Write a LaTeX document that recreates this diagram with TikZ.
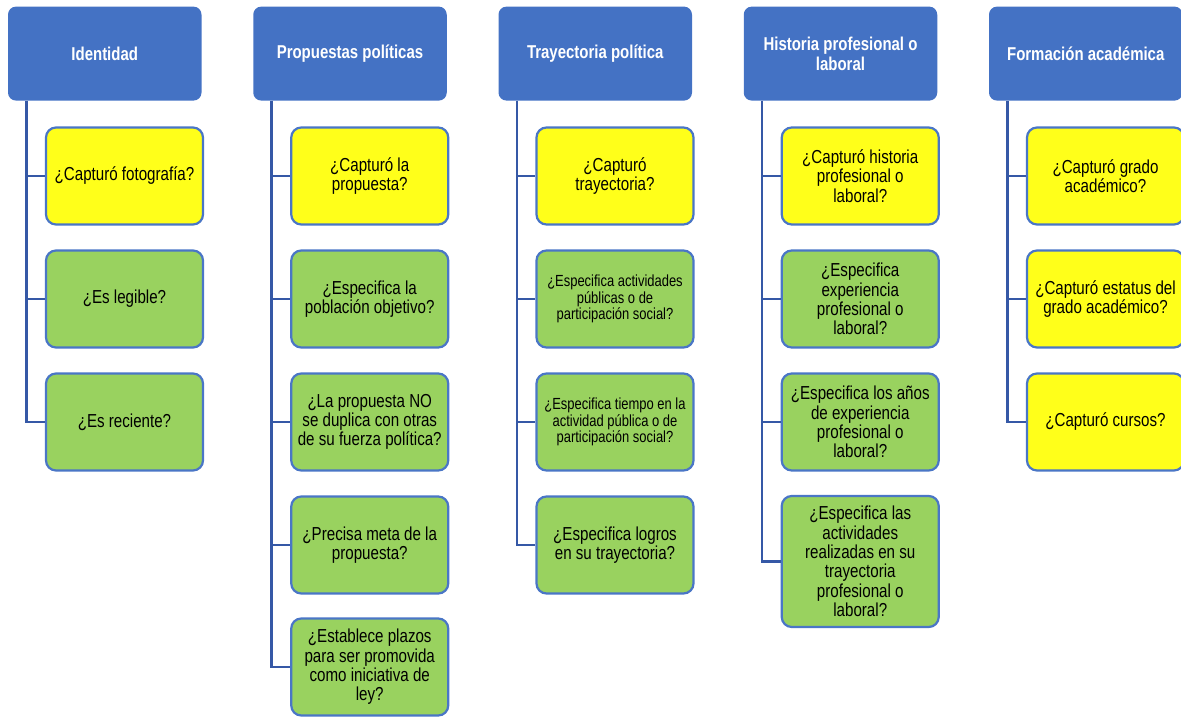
\documentclass[tikz,border=0pt]{standalone}
\usepackage{fontspec}
\setmainfont{Liberation Sans}[FakeStretch=0.805]
\definecolor{hblue}{HTML}{4472C4}
\definecolor{bblue}{HTML}{4A76C6}
\definecolor{lblue}{HTML}{3558A6}
\definecolor{qyellow}{HTML}{FFFF1A}
\definecolor{qgreen}{HTML}{99D25F}
\tikzset{
  hdr/.style={fill=hblue, draw=none, rounded corners=8pt, minimum width=193.5pt, minimum height=94pt,
    text=white, align=center, inner sep=2pt, font=\bfseries\fontsize{18.6}{20}\selectfont},
  qbox/.style={draw=bblue, line width=2.2pt, rounded corners=10pt, minimum width=157pt, minimum height=97pt,
    align=center, inner sep=2pt, text=black, font=\fontsize{18.8}{19.3}\selectfont},
  qy/.style={qbox, fill=qyellow},
  qg/.style={qbox, fill=qgreen},
  small/.style={font=\fontsize{16.1}{16.7}\selectfont},
  conn/.style={draw=lblue, line width=2.6pt}
}
\begin{document}
\begin{tikzpicture}[x=1pt,y=-1pt]
\useasboundingbox (0,0) rectangle (1181,717);
% column 1
\node[hdr] (h1) at (104.75,53.6) {Identidad};
\node[qy] (q11) at (124.5,176) {¿Capturó fotografía?};
\node[qg] (q12) at (124.5,299) {¿Es legible?};
\node[qg] (q13) at (124.5,422) {¿Es reciente?};
% column 2
\node[hdr] (h2) at (350,53.6) {Propuestas políticas};
\node[qy] (q21) at (369.75,176) {¿Capturó la\\propuesta?};
\node[qg] (q22) at (369.75,299) {¿Especifica la\\población objetivo?};
\node[qg] (q23) at (369.75,422) {¿La propuesta NO\\se duplica con otras\\de su fuerza política?};
\node[qg] (q24) at (369.75,545) {¿Precisa meta de la\\propuesta?};
\node[qg] (q25) at (369.75,667) {¿Establece plazos\\para ser promovida\\como iniciativa de\\ley?};
% column 3
\node[hdr] (h3) at (595.25,53.6) {Trayectoria política};
\node[qy] (q31) at (615,176) {¿Capturó\\trayectoria?};
\node[qg,small] (q32) at (615,299) {¿Especifica actividades\\públicas o de\\participación social?};
\node[qg,small] (q33) at (615,422) {¿Especifica tiempo en la\\actividad pública o de\\participación social?};
\node[qg] (q34) at (615,545) {¿Especifica logros\\en su trayectoria?};
% column 4
\node[hdr] (h4) at (840.5,53.6) {Historia profesional o\\laboral};
\node[qy] (q41) at (860.25,176) {¿Capturó historia\\profesional o\\laboral?};
\node[qg] (q42) at (860.25,299) {¿Especifica\\experiencia\\profesional o\\laboral?};
\node[qg] (q43) at (860.25,422) {¿Especifica los años\\de experiencia\\profesional o\\laboral?};
\node[qg, minimum height=131pt] (q44) at (860.25,561.5) {¿Especifica las\\actividades\\realizadas en su\\trayectoria\\profesional o\\laboral?};
% column 5
\node[hdr] (h5) at (1085.75,53.6) {Formación académica};
\node[qy] (q51) at (1105.5,176) {¿Capturó grado\\académico?};
\node[qy] (q52) at (1105.5,299) {¿Capturó estatus del\\grado académico?};
\node[qy] (q53) at (1105.5,422) {¿Capturó cursos?};
% connectors
\foreach \h/\q in {h1/q11,h1/q12,h1/q13,
                   h2/q21,h2/q22,h2/q23,h2/q24,h2/q25,
                   h3/q31,h3/q32,h3/q33,h3/q34,
                   h4/q41,h4/q42,h4/q43,h4/q44,
                   h5/q51,h5/q52,h5/q53}
  \draw[conn] ([xshift=18.5pt]\h.south west) |- (\q.west);
\end{tikzpicture}
\end{document}
